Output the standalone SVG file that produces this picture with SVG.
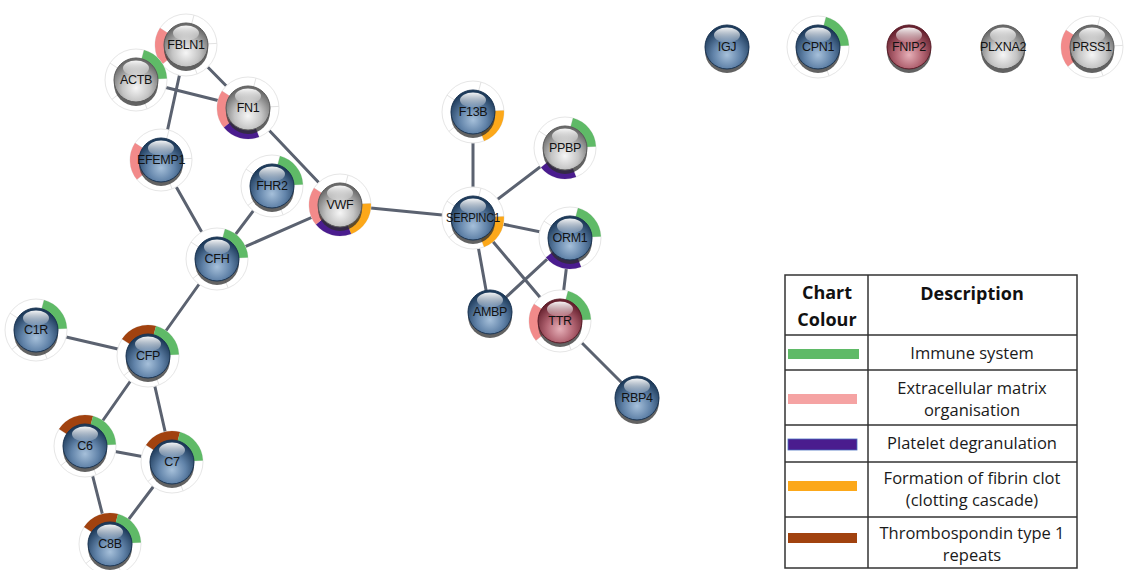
<svg xmlns="http://www.w3.org/2000/svg" width="1132" height="570" viewBox="0 0 1132 570">
  <style>
    .edge { stroke: #5b6270; stroke-width: 3; stroke-linecap: round; fill: none; }
    .lbl { font-family: "Liberation Sans", Arial, sans-serif; font-size: 12.5px; letter-spacing: -0.3px; fill: #121212; text-anchor: middle; }
    .grid { stroke: #333333; stroke-width: 1.5; fill: none; }
    .hd { font-family: "Open Sans", "Liberation Sans", sans-serif; font-size: 18px; font-weight: bold; fill: #111111; text-anchor: middle; }
    .tx { font-family: "Open Sans", "Liberation Sans", sans-serif; font-size: 16.5px; fill: #1a1a1a; text-anchor: middle; }
  </style>
  <defs>
    <radialGradient id="gBlue" cx="0.5" cy="0.68" r="0.62">
      <stop offset="0" stop-color="#a6c0da"/>
      <stop offset="0.5" stop-color="#6183a9"/>
      <stop offset="1" stop-color="#1d3a5a"/>
    </radialGradient>
    <radialGradient id="gGray" cx="0.5" cy="0.68" r="0.62">
      <stop offset="0" stop-color="#f6f6f6"/>
      <stop offset="0.5" stop-color="#c4c4c4"/>
      <stop offset="1" stop-color="#6a6a6a"/>
    </radialGradient>
    <radialGradient id="gRed" cx="0.5" cy="0.68" r="0.62">
      <stop offset="0" stop-color="#e6b0b8"/>
      <stop offset="0.5" stop-color="#b26472"/>
      <stop offset="1" stop-color="#66212e"/>
    </radialGradient>
    <linearGradient id="gHi" x1="0" y1="0" x2="0" y2="1">
      <stop offset="0" stop-color="#ffffff" stop-opacity="0.95"/>
      <stop offset="1" stop-color="#ffffff" stop-opacity="0.12"/>
    </linearGradient>

    <!-- glossy balls -->
    <g id="ballBlue">
      <circle cx="0" cy="4" r="22" fill="#2e2e2e" opacity="0.75"/>
      <circle r="22" fill="url(#gBlue)" stroke="#1a3452" stroke-width="1"/>
      <ellipse cx="0" cy="-12" rx="13" ry="7.5" fill="url(#gHi)"/>
    </g>
    <g id="ballGray">
      <circle cx="0" cy="4" r="22" fill="#2e2e2e" opacity="0.75"/>
      <circle r="22" fill="url(#gGray)" stroke="#5a5a5a" stroke-width="1"/>
      <ellipse cx="0" cy="-12" rx="13" ry="7.5" fill="url(#gHi)"/>
    </g>
    <g id="ballRed">
      <circle cx="0" cy="4" r="22" fill="#2e2e2e" opacity="0.75"/>
      <circle r="22" fill="url(#gRed)" stroke="#5a1b27" stroke-width="1"/>
      <ellipse cx="0" cy="-12" rx="13" ry="7.5" fill="url(#gHi)"/>
    </g>

    <!-- pie ring background with faint slot dividers -->
    <g id="ring">
      <circle r="31" fill="#ffffff" stroke="#e6e6e6" stroke-width="1"/>
      <g stroke="#e2e2e2" stroke-width="1">
        <line x1="5.7" y1="-21.3" x2="8.0" y2="-29.9"/>
        <line x1="22" y1="-1.2" x2="31" y2="-1.6"/>
        <line x1="7.9" y1="20.5" x2="11.1" y2="28.9"/>
        <line x1="-17.1" y1="13.8" x2="-24.1" y2="19.5"/>
        <line x1="-18.5" y1="-12.0" x2="-26.0" y2="-16.9"/>
      </g>
    </g>

    <!-- ring segments, one per pathway slot -->
    <path id="aGreen" fill="#5fba67" d="M8.02,-29.94 A31,31 0 0 1 30.96,-1.62 L19.97,-1.05 A20,20 0 0 0 5.18,-19.32 Z"/>
    <path id="aOrange" fill="#fca81a" d="M30.96,-1.62 A31,31 0 0 1 11.11,28.94 L7.17,18.67 A20,20 0 0 0 19.97,-1.05 Z"/>
    <path id="aPurple" fill="#4a1c8e" d="M11.11,28.94 A31,31 0 0 1 -24.09,19.51 L-15.54,12.59 A20,20 0 0 0 7.17,18.67 Z"/>
    <path id="aPink" fill="#f28a8a" d="M-24.09,19.51 A31,31 0 0 1 -26.00,-16.88 L-16.77,-10.89 A20,20 0 0 0 -15.54,12.59 Z"/>
    <path id="aBrown" fill="#a1420f" d="M-26.00,-16.88 A31,31 0 0 1 8.02,-29.94 L5.18,-19.32 A20,20 0 0 0 -16.77,-10.89 Z"/>
  </defs>

  <rect width="1132" height="570" fill="#ffffff"/>

  <!-- interactions -->
  <g id="edges">
    <line class="edge" x1="186" y1="45" x2="248" y2="108"/>
    <line class="edge" x1="186" y1="45" x2="161" y2="160"/>
    <line class="edge" x1="136" y1="80" x2="248" y2="108"/>
    <line class="edge" x1="248" y1="108" x2="340" y2="205"/>
    <line class="edge" x1="161" y1="160" x2="217" y2="259"/>
    <line class="edge" x1="272" y1="186" x2="217" y2="259"/>
    <line class="edge" x1="340" y1="205" x2="217" y2="259"/>
    <line class="edge" x1="340" y1="205" x2="473" y2="218"/>
    <line class="edge" x1="217" y1="259" x2="148" y2="356"/>
    <line class="edge" x1="36" y1="330" x2="148" y2="356"/>
    <line class="edge" x1="148" y1="356" x2="85" y2="446"/>
    <line class="edge" x1="148" y1="356" x2="172" y2="462"/>
    <line class="edge" x1="85" y1="446" x2="172" y2="462"/>
    <line class="edge" x1="85" y1="446" x2="110" y2="544"/>
    <line class="edge" x1="172" y1="462" x2="110" y2="544"/>
    <line class="edge" x1="473" y1="112" x2="473" y2="218"/>
    <line class="edge" x1="565" y1="148" x2="473" y2="218"/>
    <line class="edge" x1="473" y1="218" x2="570" y2="238"/>
    <line class="edge" x1="473" y1="218" x2="490" y2="312"/>
    <line class="edge" x1="473" y1="218" x2="560" y2="321"/>
    <line class="edge" x1="570" y1="238" x2="490" y2="312"/>
    <line class="edge" x1="570" y1="238" x2="560" y2="321"/>
    <line class="edge" x1="560" y1="321" x2="637" y2="398"/>
  </g>

  <!-- proteins -->
  <g id="node-FBLN1">
    <use href="#ring" x="186" y="45"/><use href="#aPink" x="186" y="45"/>
    <use href="#ballGray" x="186" y="45"/><text class="lbl" x="186" y="49">FBLN1</text>
  </g>
  <g id="node-ACTB">
    <use href="#ring" x="136" y="80"/><use href="#aGreen" x="136" y="80"/>
    <use href="#ballGray" x="136" y="80"/><text class="lbl" x="136" y="84">ACTB</text>
  </g>
  <g id="node-FN1">
    <use href="#ring" x="248" y="108"/><use href="#aPink" x="248" y="108"/><use href="#aPurple" x="248" y="108"/>
    <use href="#ballGray" x="248" y="108"/><text class="lbl" x="248" y="112">FN1</text>
  </g>
  <g id="node-EFEMP1">
    <use href="#ring" x="161" y="160"/><use href="#aPink" x="161" y="160"/>
    <use href="#ballBlue" x="161" y="160"/><text class="lbl" x="161" y="164">EFEMP1</text>
  </g>
  <g id="node-FHR2">
    <use href="#ring" x="272" y="186"/><use href="#aGreen" x="272" y="186"/>
    <use href="#ballBlue" x="272" y="186"/><text class="lbl" x="272" y="190">FHR2</text>
  </g>
  <g id="node-VWF">
    <use href="#ring" x="340" y="205"/><use href="#aOrange" x="340" y="205"/><use href="#aPurple" x="340" y="205"/><use href="#aPink" x="340" y="205"/>
    <use href="#ballGray" x="340" y="205"/><text class="lbl" x="340" y="209">VWF</text>
  </g>
  <g id="node-CFH">
    <use href="#ring" x="217" y="259"/><use href="#aGreen" x="217" y="259"/>
    <use href="#ballBlue" x="217" y="259"/><text class="lbl" x="217" y="263">CFH</text>
  </g>
  <g id="node-F13B">
    <use href="#ring" x="473" y="112"/><use href="#aOrange" x="473" y="112"/>
    <use href="#ballBlue" x="473" y="112"/><text class="lbl" x="473" y="116">F13B</text>
  </g>
  <g id="node-PPBP">
    <use href="#ring" x="565" y="148"/><use href="#aGreen" x="565" y="148"/><use href="#aPurple" x="565" y="148"/>
    <use href="#ballGray" x="565" y="148"/><text class="lbl" x="565" y="152">PPBP</text>
  </g>
  <g id="node-SERPINC1">
    <use href="#ring" x="473" y="218"/><use href="#aOrange" x="473" y="218"/>
    <use href="#ballBlue" x="473" y="218"/><text class="lbl" x="473" y="222" textLength="54" lengthAdjust="spacingAndGlyphs">SERPINC1</text>
  </g>
  <g id="node-ORM1">
    <use href="#ring" x="570" y="238"/><use href="#aGreen" x="570" y="238"/><use href="#aPurple" x="570" y="238"/>
    <use href="#ballBlue" x="570" y="238"/><text class="lbl" x="570" y="242">ORM1</text>
  </g>
  <g id="node-AMBP">
    <use href="#ballBlue" x="490" y="312"/><text class="lbl" x="490" y="316">AMBP</text>
  </g>
  <g id="node-TTR">
    <use href="#ring" x="560" y="321"/><use href="#aGreen" x="560" y="321"/><use href="#aPink" x="560" y="321"/>
    <use href="#ballRed" x="560" y="321"/><text class="lbl" x="560" y="325">TTR</text>
  </g>
  <g id="node-RBP4">
    <use href="#ballBlue" x="637" y="398"/><text class="lbl" x="637" y="402">RBP4</text>
  </g>
  <g id="node-C1R">
    <use href="#ring" x="36" y="330"/><use href="#aGreen" x="36" y="330"/>
    <use href="#ballBlue" x="36" y="330"/><text class="lbl" x="36" y="334">C1R</text>
  </g>
  <g id="node-CFP">
    <use href="#ring" x="148" y="356"/><use href="#aBrown" x="148" y="356"/><use href="#aGreen" x="148" y="356"/>
    <use href="#ballBlue" x="148" y="356"/><text class="lbl" x="148" y="360">CFP</text>
  </g>
  <g id="node-C6">
    <use href="#ring" x="85" y="446"/><use href="#aBrown" x="85" y="446"/><use href="#aGreen" x="85" y="446"/>
    <use href="#ballBlue" x="85" y="446"/><text class="lbl" x="85" y="450">C6</text>
  </g>
  <g id="node-C7">
    <use href="#ring" x="172" y="462"/><use href="#aBrown" x="172" y="462"/><use href="#aGreen" x="172" y="462"/>
    <use href="#ballBlue" x="172" y="462"/><text class="lbl" x="172" y="466">C7</text>
  </g>
  <g id="node-C8B">
    <use href="#ring" x="110" y="544"/><use href="#aBrown" x="110" y="544"/><use href="#aGreen" x="110" y="544"/>
    <use href="#ballBlue" x="110" y="544"/><text class="lbl" x="110" y="548">C8B</text>
  </g>

  <!-- unconnected proteins -->
  <g id="node-IGJ">
    <use href="#ballBlue" x="727" y="47"/><text class="lbl" x="727" y="51">IGJ</text>
  </g>
  <g id="node-CPN1">
    <use href="#ring" x="818" y="47"/><use href="#aGreen" x="818" y="47"/>
    <use href="#ballBlue" x="818" y="47"/><text class="lbl" x="818" y="51">CPN1</text>
  </g>
  <g id="node-FNIP2">
    <use href="#ballRed" x="909" y="47"/><text class="lbl" x="909" y="51">FNIP2</text>
  </g>
  <g id="node-PLXNA2">
    <use href="#ballGray" x="1003" y="47"/><text class="lbl" x="1003" y="51">PLXNA2</text>
  </g>
  <g id="node-PRSS1">
    <use href="#ring" x="1092" y="47"/><use href="#aPink" x="1092" y="47"/>
    <use href="#ballGray" x="1092" y="47"/><text class="lbl" x="1092" y="51">PRSS1</text>
  </g>

  <!-- legend table -->
  <g id="legend">
    <rect x="785" y="275" width="292" height="293" fill="#ffffff"/>
    <rect class="grid" x="785" y="275" width="292" height="293"/>
    <line class="grid" x1="868" y1="275" x2="868" y2="568"/>
    <line class="grid" x1="785" y1="335" x2="1077" y2="335"/>
    <line class="grid" x1="785" y1="370" x2="1077" y2="370"/>
    <line class="grid" x1="785" y1="425" x2="1077" y2="425"/>
    <line class="grid" x1="785" y1="462" x2="1077" y2="462"/>
    <line class="grid" x1="785" y1="517" x2="1077" y2="517"/>

    <text class="hd" x="827" y="299">Chart</text>
    <text class="hd" x="827" y="326">Colour</text>
    <text class="hd" x="972" y="300">Description</text>

    <rect x="788" y="349" width="71" height="10" fill="#5fba67"/>
    <text class="tx" x="972" y="359">Immune system</text>

    <rect x="788" y="394" width="69" height="10" fill="#f5a3a3"/>
    <text class="tx" x="972" y="394">Extracellular matrix</text>
    <text class="tx" x="972" y="416">organisation</text>

    <rect x="788" y="439" width="69" height="11" fill="#4a1c8e" stroke="#4a70c0" stroke-width="0.8"/>
    <text class="tx" x="972" y="449">Platelet degranulation</text>

    <rect x="788" y="481" width="69" height="10" fill="#fca81a"/>
    <text class="tx" x="972" y="484">Formation of fibrin clot</text>
    <text class="tx" x="972" y="506">(clotting cascade)</text>

    <rect x="788" y="533" width="69" height="10" fill="#a1420f"/>
    <text class="tx" x="972" y="539">Thrombospondin type 1</text>
    <text class="tx" x="972" y="561">repeats</text>
  </g>
</svg>
